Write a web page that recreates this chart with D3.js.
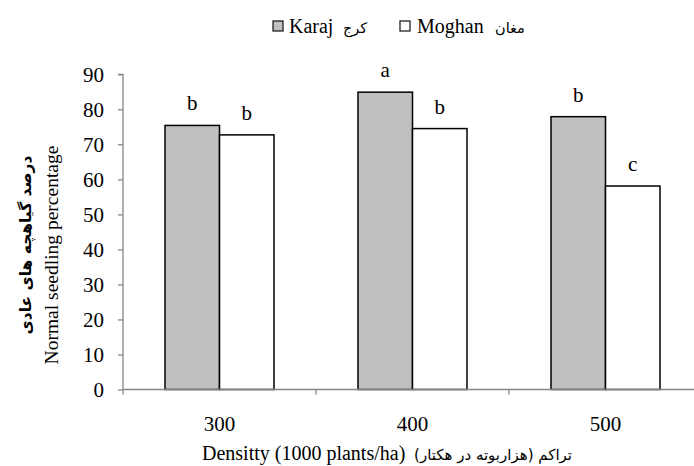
<!DOCTYPE html>
<html><head><meta charset="utf-8">
<script src="https://cdn.jsdelivr.net/npm/d3@7"></script>
<style>
html,body{margin:0;padding:0;background:#fff;}
svg{display:block;}
</style></head>
<body>
<svg id="chart" width="694" height="466"></svg>
<script>
const categories = ["300", "400", "500"];
const seriesNames = ["Karaj", "Moghan"];
const seriesNamesFa = ["کرج", "مغان"];
const karaj = [75.4, 84.9, 77.9];
const moghan = [72.7, 74.5, 58.1];
const karajLetters = ["b", "a", "b"];
const moghanLetters = ["b", "b", "c"];
const yTicks = [0, 10, 20, 30, 40, 50, 60, 70, 80, 90];
const xTitleEn = "Densitty (1000 plants/ha)";
const xTitleFa = "تراکم (هزاربوته در هکتار)\u200F";
const yTitleEn = "Normal seedling percentage";
const yTitleFa = "درصد گیاهچه های عادی";

const SERIF = "'Liberation Serif', 'Times New Roman', Tinos, 'DejaVu Serif', serif";
const FA = "'DejaVu Sans', 'Noto Sans', sans-serif";

const svg = d3.select("#chart").style("font-family", SERIF);
const mLeft = 123, mRight = 702, mTop = 74.3, mBottom = 389.5;
const fills = ["#c0c0c0", "#ffffff"];

const x = d3.scaleBand().domain(categories).range([mLeft, mRight]).paddingInner(0).paddingOuter(0);
const x1 = d3.scaleBand().domain(seriesNames).range([0, 109]);
const y = d3.scaleLinear().domain([0, 90]).range([mBottom, mTop]);

const data = categories.map((c, i) => ({cat: c, vals: [
  {s: seriesNames[0], v: karaj[i], l: karajLetters[i], f: fills[0]},
  {s: seriesNames[1], v: moghan[i], l: moghanLetters[i], f: fills[1]}
]}));

function serif(sel, size) {
  return sel.style("font-family", SERIF).style("font-size", size + "px");
}

const g = svg.append("g");
const grp = g.selectAll("g.grp").data(data).join("g")
  .attr("transform", d => `translate(${x(d.cat) + x.bandwidth()/2 - 54.5},0)`);
grp.selectAll("rect").data(d => d.vals).join("rect")
  .attr("x", d => x1(d.s))
  .attr("y", d => y(d.v))
  .attr("width", x1.bandwidth())
  .attr("height", d => y(0) - y(d.v))
  .attr("fill", d => d.f)
  .attr("stroke", "#000")
  .attr("stroke-width", 1.5);
serif(grp.selectAll("text").data(d => d.vals).join("text")
  .attr("x", d => x1(d.s) + x1.bandwidth()/2)
  .attr("y", d => y(d.v) - 15)
  .attr("text-anchor", "middle")
  .text(d => d.l), 21);

// y axis
const yAxis = d3.axisLeft(y).tickValues(yTicks).tickSize(5).tickPadding(14);
const ya = svg.append("g").attr("transform", `translate(${mLeft},0)`).call(yAxis);
ya.attr("font-family", null).attr("font-size", null);
ya.select(".domain").attr("stroke", "#868686").attr("stroke-width", 1.3).attr("d", `M-5,${mTop}H0V${mBottom}`);
ya.selectAll(".tick line").attr("stroke", "#868686").attr("stroke-width", 1.3);
serif(ya.selectAll(".tick text").attr("fill", "#000").attr("dy", "0.35em"), 21);

// x axis
const xa = svg.append("g").attr("transform", `translate(0,${mBottom})`);
xa.append("line").attr("x1", mLeft).attr("x2", mRight).attr("y1", 0).attr("y2", 0)
  .attr("stroke", "#868686").attr("stroke-width", 1.3);
const bounds = categories.map(c => x(c)).concat([x(categories[categories.length-1]) + x.bandwidth()]);
xa.selectAll("line.t").data(bounds).join("line").attr("class", "t")
  .attr("x1", d => d).attr("x2", d => d).attr("y1", 0).attr("y2", 5)
  .attr("stroke", "#868686").attr("stroke-width", 1.3);
serif(xa.selectAll("text.cat").data(categories).join("text").attr("class", "cat")
  .attr("x", d => x(d) + x.bandwidth()/2)
  .attr("y", 41)
  .attr("text-anchor", "middle")
  .text(d => d), 21);

// x title
serif(svg.append("text").attr("x", 202).attr("y", 460).text(xTitleEn), 20);
svg.append("text").attr("x", 572).attr("y", 460).attr("text-anchor", "end")
  .style("font-size", "15px").style("font-family", FA).text(xTitleFa);

// y titles
serif(svg.append("text").attr("transform", "translate(58,255) rotate(-90)")
  .attr("text-anchor", "middle").text(yTitleEn), 19.5);
svg.append("text").attr("transform", "translate(31,245) rotate(-90)")
  .attr("text-anchor", "middle").style("font-size", "15.5px").attr("font-weight", "bold")
  .style("font-family", FA).text(yTitleFa);

// legend
const lg = svg.append("g");
const legendItems = [
  {sq: 273, en: 289, fa: 343, i: 0},
  {sq: 400, en: 417, fa: 495, i: 1}
];
legendItems.forEach(d => {
  lg.append("rect").attr("x", d.sq).attr("y", 21).attr("width", 10).attr("height", 10)
    .attr("fill", fills[d.i]).attr("stroke", "#222").attr("stroke-width", 1.3);
  serif(lg.append("text").attr("x", d.en).attr("y", 33).text(seriesNames[d.i]), 20);
  lg.append("text").attr("x", d.fa).attr("y", 33).style("font-size", "14.5px")
    .style("font-family", FA).text(seriesNamesFa[d.i]);
});
</script>
</body></html>
